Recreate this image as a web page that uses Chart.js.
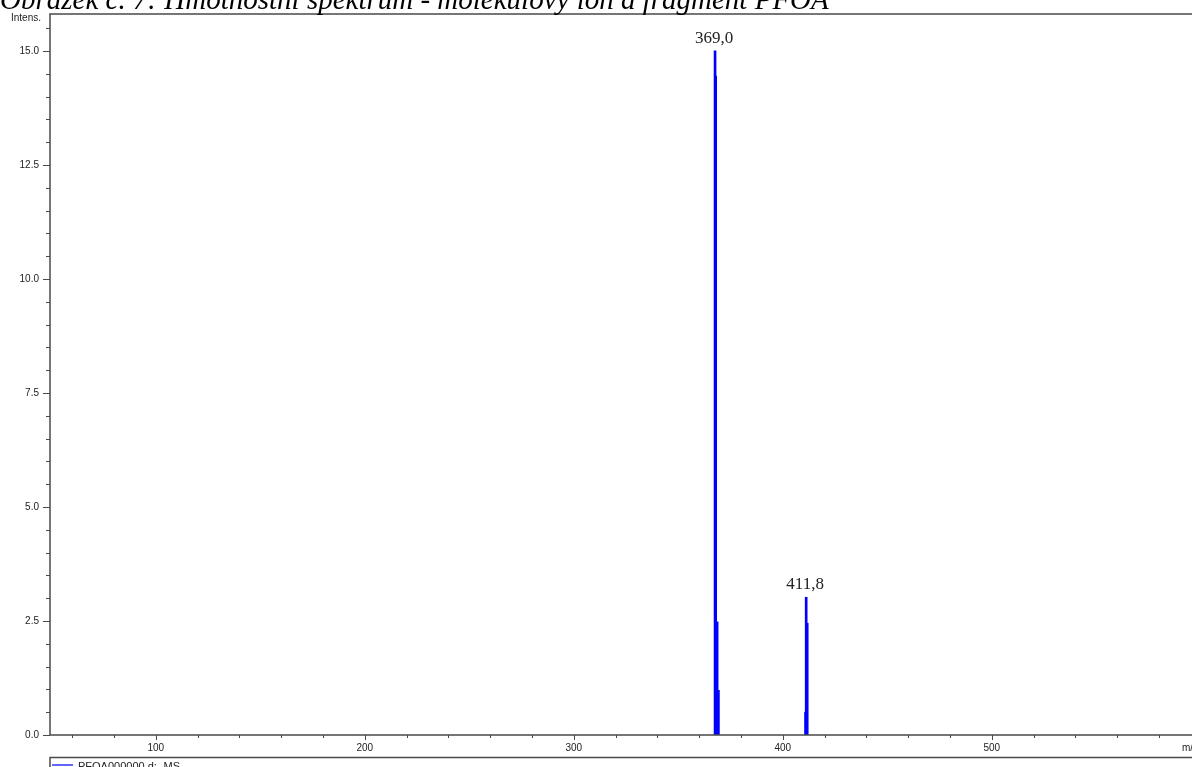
<!DOCTYPE html>
<html>
<head>
<meta charset="utf-8">
<script src="https://cdn.jsdelivr.net/npm/chart.js@4"></script>
<style>
  html, body { margin: 0; padding: 0; background: #fff; overflow: hidden; }
  canvas { display: block; }
</style>
</head>
<body>
<canvas id="spectrum" width="1192" height="767"></canvas>
<script>
// m/z positions and intensities
const mz = [367.6, 367.9, 368.6, 369.2, 410.9, 411.2, 411.7];
const intensity = [15.0, 14.45, 2.48, 0.98, 0.5, 3.02, 2.45];
const peakLabels = ['369,0', '411,8'];
const peakIndex = [0, 5];
const yMajor = [0, 2.5, 5, 7.5, 10, 12.5, 15];
const xMajor = [100, 200, 300, 400, 500];

const title = 'Obrázek č. 7: Hmotnostní spektrum - molekulový ion a fragment PFOA';
const legendText = 'PFOA000000.d: -MS';
const axisColor = '#4a4a4a';
const tickFont = '"Liberation Sans", Arial, sans-serif';

const decorations = {
  id: 'decorations',
  afterDraw(chart) {
    const { ctx, chartArea, scales } = chart;
    const x = scales.x, y = scales.y;
    ctx.save();

    // frame: left axis, bottom axis, top border
    ctx.strokeStyle = axisColor;
    ctx.lineWidth = 1.5;
    ctx.beginPath();
    ctx.moveTo(chartArea.right, chartArea.top);
    ctx.lineTo(chartArea.left, chartArea.top);
    ctx.lineTo(chartArea.left, chartArea.bottom);
    ctx.lineTo(chartArea.right, chartArea.bottom);
    ctx.stroke();

    // tick marks
    ctx.lineWidth = 1;
    ctx.beginPath();
    y.ticks.forEach(t => {
      const py = Math.round(y.getPixelForValue(t.value)) + 0.5;
      const len = yMajor.includes(t.value) ? 7 : 4;
      ctx.moveTo(chartArea.left - len, py);
      ctx.lineTo(chartArea.left, py);
    });
    x.ticks.forEach(t => {
      const px = Math.round(x.getPixelForValue(t.value)) + 0.5;
      const len = xMajor.includes(t.value) ? 5 : 3;
      ctx.moveTo(px, chartArea.bottom);
      ctx.lineTo(px, chartArea.bottom + len);
    });
    ctx.stroke();

    // axis captions
    ctx.fillStyle = '#222';
    ctx.font = '10px ' + tickFont;
    ctx.textAlign = 'right';
    ctx.textBaseline = 'alphabetic';
    ctx.fillText('Intens.', 41, 21);
    ctx.textAlign = 'left';
    ctx.fillText('m/z', 1182, 751);

    // peak annotations
    ctx.fillStyle = '#222';
    ctx.font = '17px "Liberation Serif", "Times New Roman", serif';
    ctx.textAlign = 'center';
    peakIndex.forEach((idx, i) => {
      const px = x.getPixelForValue(mz[idx]);
      const py = y.getPixelForValue(intensity[idx]);
      ctx.fillText(peakLabels[i], px - 1, py - 8);
    });

    // title (clipped at the top of the page)
    ctx.fillStyle = '#000';
    ctx.font = 'italic 29px "Liberation Serif", "Times New Roman", serif';
    ctx.textAlign = 'left';
    ctx.fillText(title, 0, 9);

    // legend box
    ctx.strokeStyle = axisColor;
    ctx.lineWidth = 1.5;
    ctx.strokeRect(50, 757.5, 1160, 40);
    ctx.strokeStyle = '#3030ff';
    ctx.lineWidth = 1.5;
    ctx.beginPath();
    ctx.moveTo(52, 765);
    ctx.lineTo(73, 765);
    ctx.stroke();
    ctx.fillStyle = '#222';
    ctx.font = '11px ' + tickFont;
    ctx.fillText(legendText, 78, 770);

    ctx.restore();
  }
};

new Chart(document.getElementById('spectrum'), {
  type: 'bar',
  data: {
    datasets: [
      {
        data: mz.map((m, i) => ({ x: m, y: intensity[i] })),
        backgroundColor: '#0000ff',
        borderWidth: 0,
        barThickness: 2,
        grouped: false,
      },
    ],
  },
  options: {
    responsive: false,
    animation: false,
    devicePixelRatio: 1,
    layout: {
      padding: { top: 14, right: 0, left: 0, bottom: 0 },
    },
    scales: {
      x: {
        type: 'linear',
        offset: false,
        min: 49.4,
        max: 595.8,
        border: { display: false },
        grid: { display: false, drawTicks: false },
        ticks: {
          stepSize: 20,
          includeBounds: false,
          autoSkip: false,
          maxRotation: 0,
          padding: 7,
          color: '#222',
          font: { family: tickFont, size: 10 },
          callback: (v) => (xMajor.includes(v) ? String(v) : ''),
        },
        afterFit: (scale) => {
          scale.height = 32;
          scale.paddingLeft = 0;
          scale.paddingRight = 0;
        },
      },
      y: {
        min: 0,
        max: 15.81,
        border: { display: false },
        grid: { display: false, drawTicks: false },
        ticks: {
          stepSize: 0.5,
          includeBounds: false,
          autoSkip: false,
          padding: 11,
          color: '#222',
          font: { family: tickFont, size: 10 },
          callback: (v) => (yMajor.includes(v) ? v.toFixed(1) : ''),
        },
        afterFit: (scale) => {
          scale.width = 50;
          scale.paddingTop = 0;
          scale.paddingBottom = 0;
        },
      },
    },
    plugins: {
      legend: { display: false },
      tooltip: { enabled: false },
    },
  },
  plugins: [decorations],
});
</script>
</body>
</html>
